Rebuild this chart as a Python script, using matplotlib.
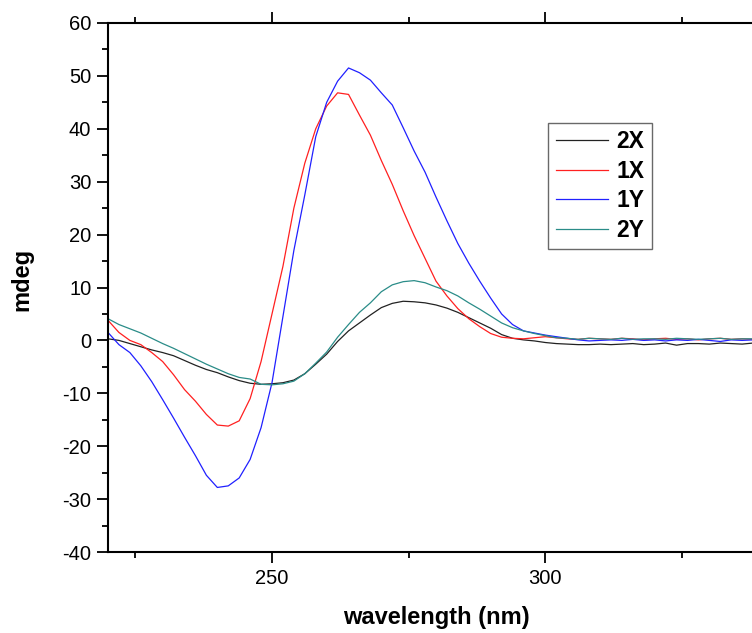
import matplotlib
matplotlib.use("Agg")
import matplotlib.pyplot as plt
from matplotlib.ticker import MultipleLocator

plt.rcParams['font.family'] = ['Liberation Sans', 'DejaVu Sans']
plt.rcParams['axes.unicode_minus'] = False

wavelength = list(range(220, 342, 2))

s_2X = [0.3, 0.0, -0.6, -1.2, -1.8, -2.3, -2.9, -3.8, -4.7, -5.5,
        -6.1, -6.9, -7.6, -8.1, -8.3, -8.2, -8.0, -7.5, -6.3, -4.5,
        -2.6, -0.2, 1.8, 3.3, 4.8, 6.2, 7.0, 7.4, 7.3, 7.1,
        6.7, 6.1, 5.3, 4.3, 3.3, 2.3, 1.1, 0.4, 0.1, -0.1,
        -0.4, -0.6, -0.7, -0.8, -0.8, -0.7, -0.8, -0.7, -0.6, -0.8,
        -0.7, -0.5, -0.9, -0.6, -0.6, -0.7, -0.5, -0.6, -0.7, -0.5, -0.6]

s_1X = [3.8, 1.5, 0.0, -0.8, -2.3, -4.0, -6.5, -9.3, -11.5, -14.0,
        -16.0, -16.2, -15.2, -11.0, -4.0, 5.0, 14.0, 25.0, 33.5, 40.0,
        44.3, 46.8, 46.5, 42.6, 38.8, 34.0, 29.5, 24.5, 19.8, 15.5,
        11.2, 8.4, 6.0, 4.1, 2.6, 1.3, 0.6, 0.4, 0.3, 0.5,
        0.7, 0.5, 0.3, 0.2, 0.4, 0.3, 0.2, 0.4, 0.3, 0.1,
        0.3, 0.4, 0.2, 0.3, 0.1, 0.3, 0.4, 0.2, 0.3, 0.2, 0.3]

s_1Y = [1.5, -0.8, -2.3, -4.8, -7.8, -11.2, -14.7, -18.3, -21.8, -25.5,
        -27.8, -27.5, -26.0, -22.5, -16.5, -8.0, 4.5, 17.0, 27.5, 38.5,
        45.0, 49.0, 51.5, 50.6, 49.2, 46.8, 44.5, 40.2, 35.8, 31.8,
        27.1, 22.6, 18.3, 14.6, 11.2, 8.0, 5.0, 3.0, 1.8, 1.4,
        1.0, 0.7, 0.4, 0.1, -0.1, 0.0, 0.1, 0.0, 0.2, 0.0,
        0.1, -0.1, 0.1, 0.0, 0.2, 0.0, -0.2, 0.1, 0.0, 0.1, 0.0]

s_2Y = [4.1, 3.0, 2.2, 1.4, 0.4, -0.6, -1.5, -2.5, -3.5, -4.5,
        -5.4, -6.3, -7.0, -7.3, -8.3, -8.4, -8.2, -7.7, -6.3, -4.3,
        -2.2, 0.6, 3.0, 5.3, 7.1, 9.2, 10.5, 11.1, 11.3, 10.9,
        10.1, 9.4, 8.4, 7.1, 5.9, 4.6, 3.3, 2.4, 1.8, 1.3,
        0.9, 0.5, 0.4, 0.2, 0.4, 0.3, 0.2, 0.4, 0.2, 0.3,
        0.3, 0.2, 0.4, 0.3, 0.2, 0.3, 0.4, 0.2, 0.3, 0.3, 0.2]

series = [("2X", s_2X, "#222222"), ("1X", s_1X, "#FF2020"),
          ("1Y", s_1Y, "#2020FF"), ("2Y", s_2Y, "#2A8C88")]

W, H = 752, 633
fig = plt.figure(figsize=(W / 100, H / 100), dpi=100)
ax = fig.add_axes([108 / W, 1 - 552 / H, 656 / W, 529 / H])

for name, vals, col in series:
    ax.plot(wavelength, vals, color=col, lw=0.9, label=name)

ax.set_xlim(220, 340)
ax.set_ylim(-40, 60)
ax.xaxis.set_major_locator(MultipleLocator(50))
ax.xaxis.set_minor_locator(MultipleLocator(25))
ax.yaxis.set_major_locator(MultipleLocator(10))
ax.yaxis.set_minor_locator(MultipleLocator(5))
ax.tick_params(which='both', direction='out', width=1.3, labelsize=14.5,
               top=True, right=False, labeltop=False)
ax.tick_params(which='major', length=8, pad=4)
ax.tick_params(which='minor', length=4)
for side in ['left', 'bottom', 'top']:
    ax.spines[side].set_linewidth(1.5)
ax.spines['right'].set_visible(False)

ax.set_xlabel("wavelength (nm)", fontsize=17, fontweight='bold')
ax.set_ylabel("mdeg", fontsize=17, fontweight='bold')
ax.xaxis.set_label_coords(0.5, -0.102)
ax.yaxis.set_label_coords(-0.114, 0.516)

leg = ax.legend(loc='upper left', bbox_to_anchor=(0.671, 0.811),
                prop={'weight': 'bold', 'size': 16.5}, frameon=True,
                fancybox=False, handlelength=2.3, handletextpad=0.35,
                labelspacing=0.28, borderpad=0.32, borderaxespad=0)
leg.get_frame().set_edgecolor('#444444')
leg.get_frame().set_linewidth(1.0)

fig.savefig("out.png", dpi=100)
